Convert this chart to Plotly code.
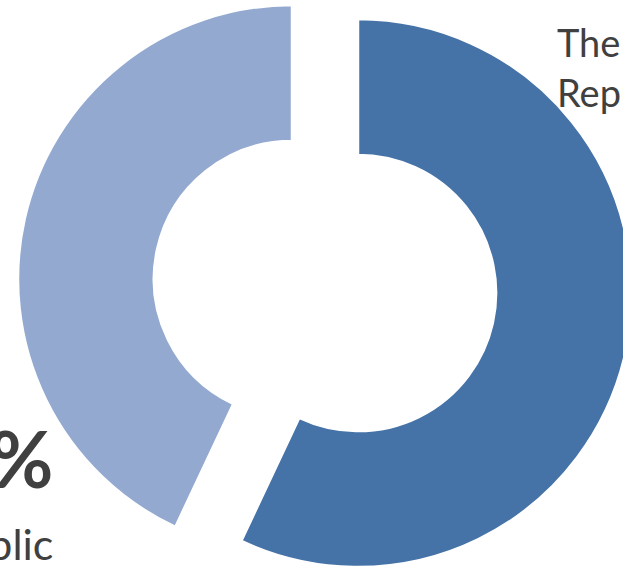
import plotly.graph_objects as go

# ---- data ----
categories = ["The Republic", "Republic"]
values = [57, 43]
colors = ["#4572A7", "#93A9D0"]
pct_label = "43%"
left_label = "Republic"
right_label_lines = ["The", "Republic"]

W, H = 640, 574

def px_x(p):
    return p / W

def px_y(p):
    return 1 - p / H

fig = go.Figure()

# dark slice (own trace so it can sit on its own offset centre)
fig.add_trace(go.Pie(
    labels=categories, values=values, sort=False, direction="clockwise", rotation=0,
    hole=0.504, textinfo="none", hoverinfo="skip", showlegend=False,
    marker=dict(colors=[colors[0], "rgba(0,0,0,0)"], line=dict(color="white", width=[2.5, 0])),
    domain=dict(x=[px_x(84), px_x(632)], y=[px_y(567), px_y(19)]),
))
# light slice
fig.add_trace(go.Pie(
    labels=categories, values=values, sort=False, direction="clockwise", rotation=0,
    hole=0.504, textinfo="none", hoverinfo="skip", showlegend=False,
    marker=dict(colors=["rgba(0,0,0,0)", colors[1]], line=dict(color="white", width=[0, 2.5])),
    domain=dict(x=[px_x(18), px_x(566)], y=[px_y(553), px_y(5)]),
))

txt = "#404040"
font_fam = "Lato, 'Open Sans', sans-serif"
ann = [
    dict(text=f"<b>{pct_label}</b>", x=px_x(55), y=px_y(458), xanchor="right", yanchor="middle",
         font=dict(size=78, color=txt, family=font_fam)),
    dict(text=left_label, x=px_x(55), y=px_y(543), xanchor="right", yanchor="middle",
         font=dict(size=43, color=txt, family=font_fam)),
    dict(text=right_label_lines[0], x=px_x(555), y=px_y(42), xanchor="left", yanchor="middle",
         font=dict(size=38, color=txt, family=font_fam)),
    dict(text=right_label_lines[1], x=px_x(555), y=px_y(92), xanchor="left", yanchor="middle",
         font=dict(size=38, color=txt, family=font_fam)),
]
for a in ann:
    a.update(xref="paper", yref="paper", showarrow=False)

fig.update_layout(
    width=W, height=H, margin=dict(l=0, r=0, t=0, b=0),
    paper_bgcolor="white", plot_bgcolor="white", annotations=ann,
)

fig.write_html("out.html", post_script="document.documentElement.style.overflow='hidden';document.body.style.overflow='hidden';")
